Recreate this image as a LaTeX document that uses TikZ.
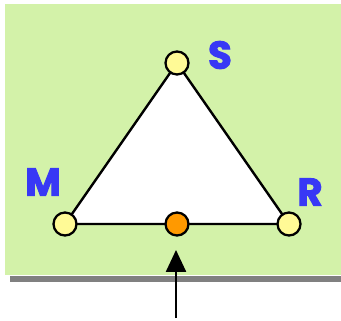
\documentclass[tikz,border=0pt]{standalone}
\usepackage{fontspec}
\setsansfont{Poppins}
\newfontfamily\lblfam[BoldFeatures={FakeBold=2.5}]{Poppins}
\usetikzlibrary{positioning,arrows.meta}
\definecolor{Panel}{HTML}{D3F2A9}
\definecolor{Shadow}{HTML}{808080}
\definecolor{Vertex}{HTML}{FFFA96}
\definecolor{Middle}{HTML}{FF9900}
\definecolor{Label}{HTML}{3838F5}

\begin{document}
\begin{tikzpicture}[x=0.75pt,y=-0.75pt,
        vertex/.style={circle, draw=black, line width=1.7pt, fill=Vertex,
                       minimum size=17.25pt, inner sep=0pt},
        midpt/.style={vertex, fill=Middle},
        lbl/.style={text=Label, font=\lblfam\bfseries\fontsize{29}{31}\selectfont,
                    inner sep=0pt},
        edge/.style={black, line width=1.8pt}
      ]
        \useasboundingbox (0,0) rectangle (341,320);
        % panel with shadow
        \fill[Shadow] (10,276) rectangle (341,282);
        \fill[Panel] (5,4) rectangle (341,275);
        % triangle
        \coordinate (ps) at (177,63);
        \coordinate (pm) at (65,224);
        \coordinate (pr) at (289,224);
        \filldraw[edge, fill=white] (ps) -- (pr) -- (pm) -- cycle;
        \node[vertex] (s) at (ps) {};
        \node[vertex] (m) at (pm) {};
        \node[vertex] (r) at (pr) {};
        \node[midpt] (mid) at (177,224) {};
        \node[lbl] (ls) at (220,55) {S};
        \node[lbl] (lm) at (43,182) {M};
        \node[lbl] (lr) at (310,192) {R};
        % pointer
        \coordinate (tail) at (176,318);
        \draw[edge, -{Triangle[length=16.5pt,width=15pt]}, shorten >=10pt]
          (tail) -- (tail |- mid.south);
      \end{tikzpicture}
\end{document}
